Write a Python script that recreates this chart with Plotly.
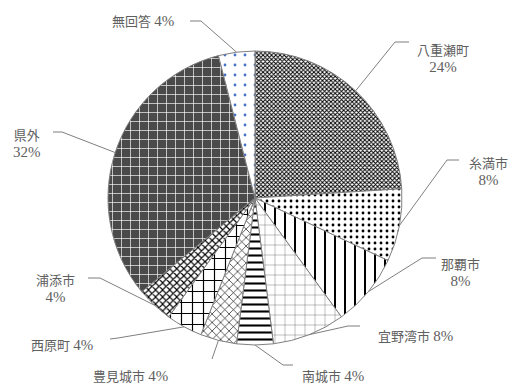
import math
import plotly.graph_objects as go

# ---- data ----
labels = ["八重瀬町", "糸満市", "那覇市", "宜野湾市", "南城市", "豊見城市", "西原町", "浦添市", "県外", "無回答"]
values = [24, 8, 8, 8, 4, 4, 4, 4, 32, 4]
# whether the percentage goes on its own line
two_line = [True, True, True, False, False, False, False, True, True, False]

# ---- styles / layout ----
W, H = 516, 385
CX, CY, R = 255, 198, 147  # pie centre / radius in px

shapes_pat = ["x", ".", "|", "+", "-", "x", "+", "x", "+", "."]
fg = ["black", "black", "black", "black", "black", "black", "black", "black", "white", "#4472C4"]
bg = ["white", "white", "white", "white", "white", "white", "white", "white", "#4a4a4a", "white"]
sizes = [3, 6, 10, 10, 7, 6, 11, 5, 9, 10]
solid = [0.55, 0.18, 0.2, 0.05, 0.3, 0.2, 0.2, 0.4, 0.14, 0.06]

# label text centre (px) and leader elbow (px)
label_pos = [(443, 59), (488, 172), (460, 273), (415, 336), (333, 376),
             (130, 376), (62, 345), (55, 289), (27, 144), (143, 21)]
elbows = [[(409, 42), (395, 42)], [(459, 160), (447, 160)], [(436, 258), (422, 258)],
          [(360, 326), (348, 326)], [(293, 365), (283, 365)], [(212, 359)],
          [(110, 339), (118, 338)], [(88, 278), (100, 278)], [(53, 132), (62, 132)],
          [(190, 21), (201, 21)]]

fig = go.Figure()
fig.add_trace(go.Pie(
    labels=labels, values=values, sort=False, direction="clockwise", rotation=0,
    textinfo="none", hoverinfo="label+percent",
    marker=dict(colors=["white"] * len(values),
                line=dict(color="#7f7f7f", width=1),
                pattern=dict(shape=shapes_pat, fgcolor=fg, bgcolor=bg, size=sizes,
                             solidity=solid, fillmode="replace")),
    domain=dict(x=[(CX - R) / W, (CX + R) / W], y=[1 - (CY + R) / H, 1 - (CY - R) / H]),
    showlegend=False,
))

def px(x, y):
    return x / W, 1 - y / H

total = sum(values)
cum = 0
shapes = []
annotations = []
for i, v in enumerate(values):
    mid = (cum + v / 2) / total * 2 * math.pi
    cum += v
    ex = CX + R * math.sin(mid)
    ey = CY - R * math.cos(mid)
    pts = elbows[i] + [(ex, ey)]
    path = ""
    for j, (x, y) in enumerate(pts):
        X, Y = px(x, y)
        path += ("M" if j == 0 else "L") + f"{X},{Y} "
    shapes.append(dict(type="path", xref="paper", yref="paper", path=path,
                       line=dict(color="#7f7f7f", width=1)))
    pct = f"{round(v / total * 100)}%"
    sep = "<br>" if two_line[i] else " "
    text = f"{labels[i]}{sep}<span style=\"font-size:15px\">{pct}</span>"
    lx, ly = px(*label_pos[i])
    annotations.append(dict(x=lx, y=ly, xref="paper", yref="paper", text=text,
                            showarrow=False, xanchor="center", yanchor="middle",
                            font=dict(size=13, color="#606060",
                                      family="Liberation Serif, Noto Sans CJK JP")))

fig.update_layout(width=W, height=H, margin=dict(l=0, r=0, t=0, b=0),
                  paper_bgcolor="white", plot_bgcolor="white",
                  shapes=shapes, annotations=annotations)
fig.write_html("out.html")
